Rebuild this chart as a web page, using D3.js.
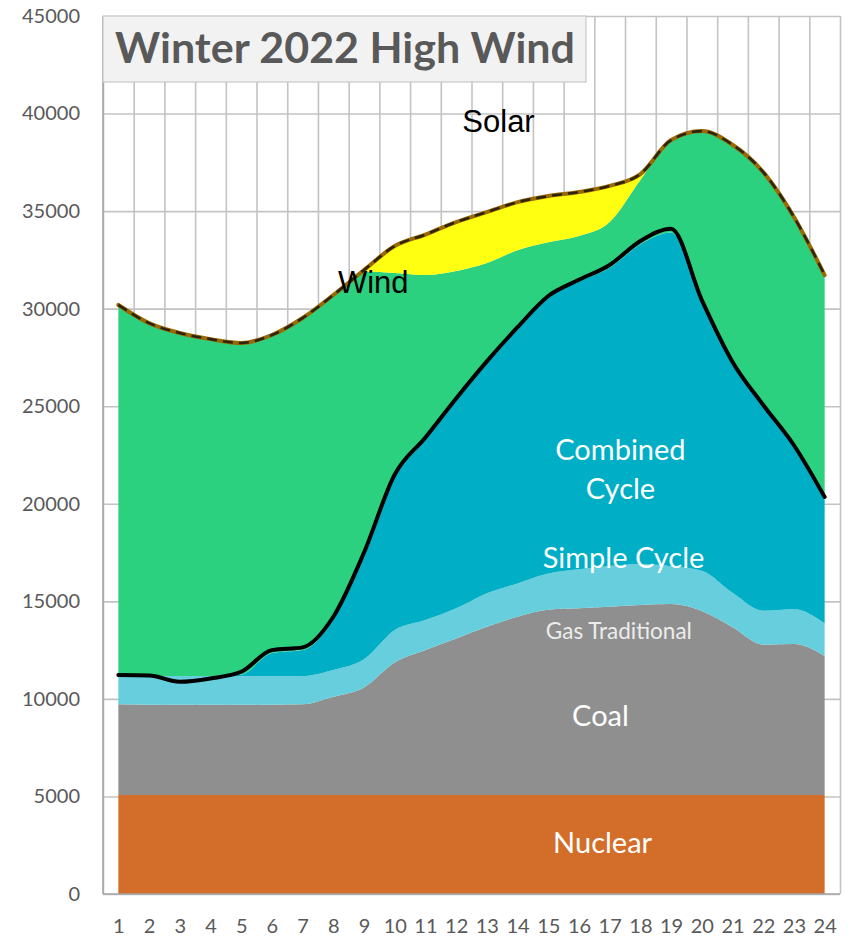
<!DOCTYPE html>
<html>
<head>
<meta charset="utf-8">
<script src="https://cdn.jsdelivr.net/npm/d3@7"></script>
<style>
  html, body { margin: 0; padding: 0; background: #ffffff; }
  svg { display: block; }
</style>
</head>
<body>
<svg id="chart" width="856" height="940"></svg>
<script>
// ---------------- DATA (MW per hour) ----------------
const hours = [1,2,3,4,5,6,7,8,9,10,11,12,13,14,15,16,17,18,19,20,21,22,23,24];
const nuclear = [5080,5080,5080,5080,5080,5080,5080,5080,5080,5080,5080,5080,5080,5080,5080,5080,5080,5080,5080,5080,5080,5080,5080,5080];
const coal = [4640,4620,4620,4620,4620,4620,4640,5030,5510,6780,7420,8020,8620,9130,9490,9560,9640,9730,9780,9420,8590,7700,7730,7120];
const simpleCycle = [1450,1470,1470,1470,1470,1470,1450,1370,1440,1670,1540,1540,1710,1710,1860,2000,2090,2100,1940,2070,1770,1740,1780,1670];
const combinedCycle = [0,0,0,0,80,1180,1330,2620,5370,7870,9260,10660,11790,13080,14170,14760,15290,16390,17100,13830,11760,10480,8310,6430];
const wind = [19020,18090,17580,17270,16990,16300,17020,16600,14500,10430,8420,6630,5140,4000,2800,2320,2340,3290,4740,8700,11200,12000,11800,11420];
const solar = [0,0,0,0,0,0,0,0,80,1380,2080,2510,2610,2460,2370,2260,1850,310,0,0,0,0,0,0];
const netLoad = [11220,11200,10880,11050,11390,12500,12640,14210,17500,21500,23400,25400,27300,29050,30650,31480,32240,33470,34100,30440,27270,25060,23000,20350];
const yTicks = [0,5000,10000,15000,20000,25000,30000,35000,40000,45000];
const title = "Winter 2022 High Wind";

const seriesKeys = ["nuclear","coal","simpleCycle","combinedCycle","wind","solar"];
const seriesColors = {
  nuclear: "#d26e2a",
  coal: "#8f8f8f",
  simpleCycle: "#66cedc",
  combinedCycle: "#00afc6",
  wind: "#2bd17e",
  solar: "#ffff12"
};

// ---------------- LAYOUT ----------------
const svg = d3.select("#chart");
const pLeft = 103, pRight = 840, pTop = 16, pBottom = 894;

const x = d3.scaleLinear().domain([0.5, 24.5]).range([pLeft, pRight]);
const y = d3.scaleLinear().domain([0, 45000]).range([pBottom, pTop]);

const rows = hours.map((h, i) => ({
  hour: h, nuclear: nuclear[i], coal: coal[i], simpleCycle: simpleCycle[i],
  combinedCycle: combinedCycle[i], wind: wind[i], solar: solar[i]
}));
const stacked = d3.stack().keys(seriesKeys)(rows);

// ---------------- GRID ----------------
const gridColor = "#c3c3c3";
const gy = svg.append("g").attr("transform", `translate(${pLeft},0)`)
  .call(d3.axisLeft(y).tickValues(yTicks).tickSize(-(pRight - pLeft)).tickFormat(""));
gy.select(".domain").remove();
gy.selectAll("line").attr("stroke", gridColor).attr("stroke-width", 1.6);

const xGridVals = d3.range(0, 25).map(k => k + 0.5);
const gx = svg.append("g").attr("transform", `translate(0,${pBottom})`)
  .call(d3.axisBottom(x).tickValues(xGridVals).tickSize(-(pBottom - pTop)).tickFormat(""));
gx.select(".domain").remove();
gx.selectAll("line").attr("stroke", gridColor).attr("stroke-width", 1.6);

// ---------------- AREAS ----------------
const curve = d3.curveMonotoneX;
const area = d3.area()
  .x(d => x(d.data.hour))
  .y0(d => y(d[0]))
  .y1(d => y(d[1]))
  .curve(curve);

svg.append("g").selectAll("path").data(stacked).join("path")
  .attr("d", area)
  .attr("fill", d => seriesColors[d.key]);

// ---------------- LINES ----------------
const totalLine = d3.line()
  .x(d => x(d.data.hour))
  .y(d => y(d[1]))
  .curve(curve);
const topLayer = stacked[stacked.length - 1];

svg.append("path").attr("d", totalLine(topLayer))
  .attr("fill", "none").attr("stroke", "#9a6a00").attr("stroke-width", 4)
  .attr("stroke-linecap", "round").attr("stroke-linejoin", "round");
svg.append("path").attr("d", totalLine(topLayer))
  .attr("fill", "none").attr("stroke", "#111111").attr("stroke-width", 2.6)
  .attr("stroke-dasharray", "10,6").attr("opacity", 0.8);

const netLine = d3.line()
  .x((d, i) => x(hours[i]))
  .y(d => y(d))
  .curve(curve);
svg.append("path").attr("d", netLine(netLoad))
  .attr("fill", "none").attr("stroke", "#000000").attr("stroke-width", 4)
  .attr("stroke-linecap", "round").attr("stroke-linejoin", "round");

// ---------------- AXES ----------------
svg.append("line").attr("x1", pLeft).attr("x2", pLeft).attr("y1", pTop).attr("y2", pBottom)
  .attr("stroke", "#a6a6a6").attr("stroke-width", 1.6);
svg.append("line").attr("x1", pLeft).attr("x2", pRight).attr("y1", pBottom).attr("y2", pBottom)
  .attr("stroke", "#a6a6a6").attr("stroke-width", 1.6);

const ay = svg.append("g").attr("transform", `translate(${pLeft},0)`)
  .call(d3.axisLeft(y).tickValues(yTicks).tickSize(0).tickPadding(23).tickFormat(d3.format("d")));
ay.select(".domain").remove();
ay.selectAll("text").attr("fill", "#595959").style("font-family", "Lato, 'Open Sans', sans-serif").style("font-size", "20px");

const ax = svg.append("g").attr("transform", `translate(0,${pBottom})`)
  .call(d3.axisBottom(x).tickValues(hours).tickSize(0).tickPadding(25).tickFormat(d3.format("d")));
ax.select(".domain").remove();
ax.selectAll("text").attr("fill", "#595959").style("font-family", "Lato, 'Open Sans', sans-serif").style("font-size", "20px");

// ---------------- TITLE BOX ----------------
svg.append("rect").attr("x", pLeft).attr("y", pTop).attr("width", 483).attr("height", 66)
  .attr("fill", "#f2f2f2").attr("stroke", "#c8c8c8").attr("stroke-width", 1.2);
svg.append("text").attr("x", 115).attr("y", 63)
  .attr("fill", "#595959").style("font-family", "Lato, 'Open Sans', sans-serif")
  .style("font-weight", "bold").style("font-size", "42px")
  .attr("textLength", 460).attr("lengthAdjust", "spacingAndGlyphs")
  .text(title);

// ---------------- LABELS ----------------
const white = "#ffffff";
const labels = [
  {t: "Nuclear", h: 16.77, v: 2110, size: 29, color: white, font: "Lato, sans-serif"},
  {t: "Coal", h: 16.7, v: 8600, size: 29, color: white, font: "Lato, sans-serif"},
  {t: "Gas Traditional", h: 17.3, v: 13060, size: 22.5, color: "#ececec", font: "Lato, sans-serif"},
  {t: "Simple Cycle", h: 17.45, v: 16700, size: 29, color: white, font: "Lato, sans-serif"},
  {t: "Combined", h: 17.35, v: 22240, size: 29, color: white, font: "Lato, sans-serif"},
  {t: "Cycle", h: 17.35, v: 20240, size: 29, color: white, font: "Lato, sans-serif"},
  {t: "Wind", h: 9.3, v: 30800, size: 31, color: "#000000", font: "'Liberation Sans', Arial, sans-serif"},
  {t: "Solar", h: 13.38, v: 39050, size: 31, color: "#000000", font: "'Liberation Sans', Arial, sans-serif"}
];
svg.append("g").selectAll("text").data(labels).join("text")
  .attr("x", d => x(d.h)).attr("y", d => y(d.v))
  .attr("text-anchor", "middle")
  .attr("fill", d => d.color)
  .style("font-family", d => d.font)
  .style("font-size", d => d.size + "px")
  .text(d => d.t);
</script>
</body>
</html>
